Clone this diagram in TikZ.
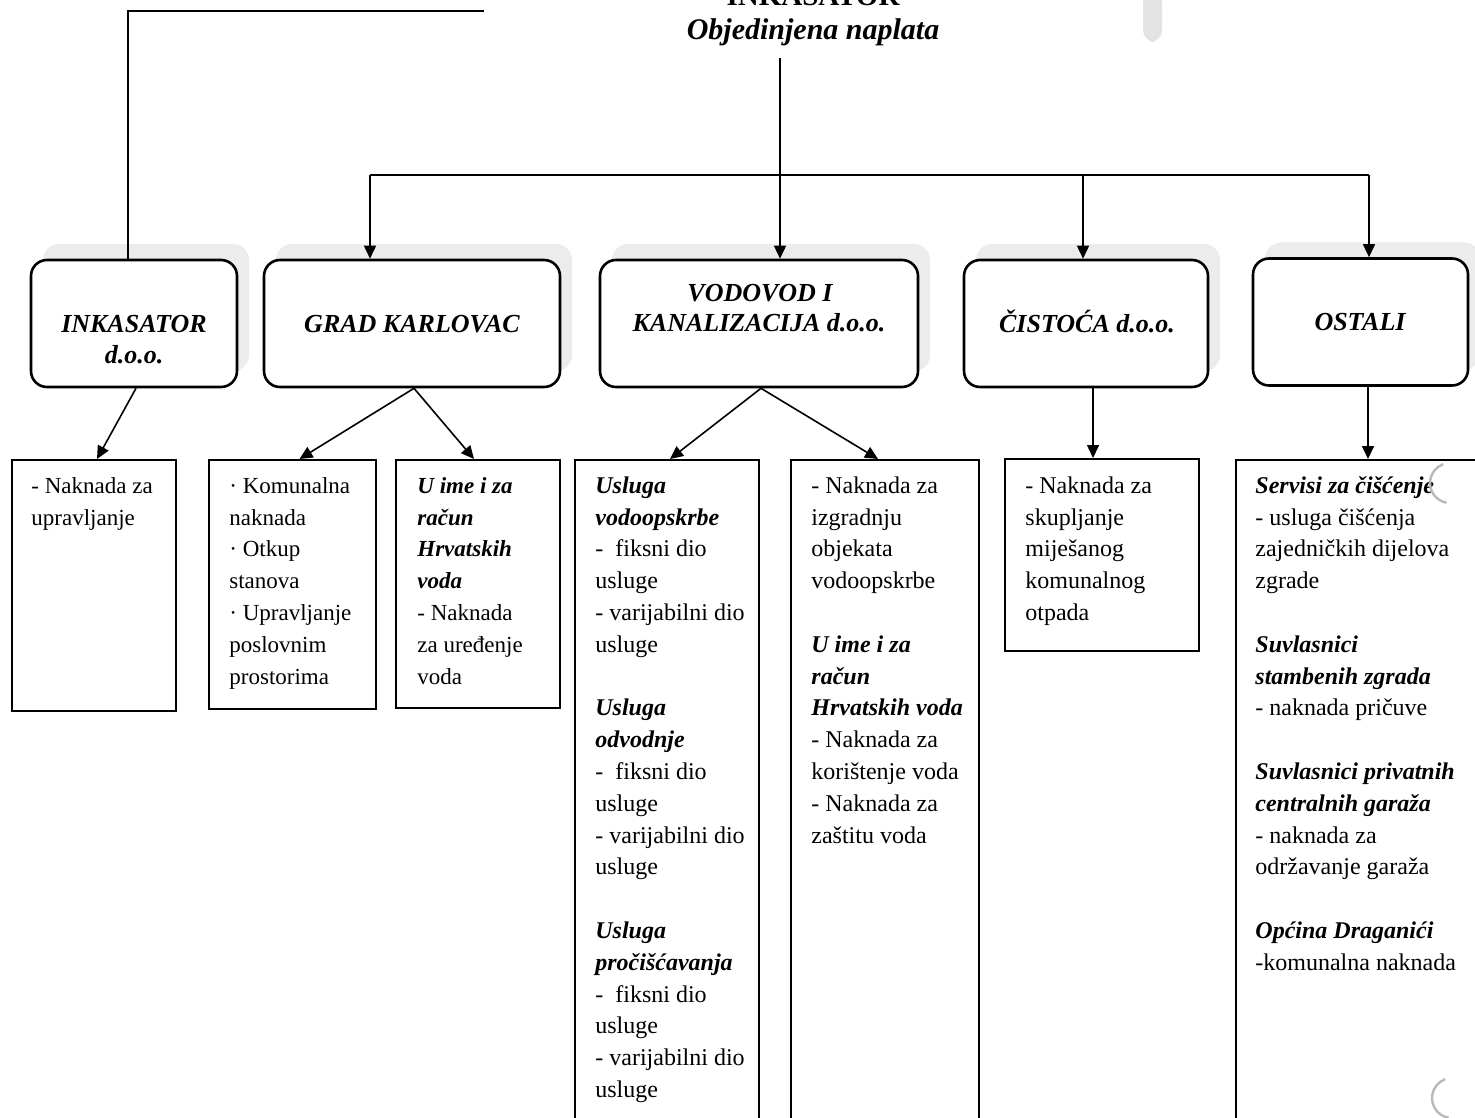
\documentclass[tikz,border=0pt]{standalone}
\usepackage{fontspec}
\setmainfont{Liberation Serif}
\usetikzlibrary{arrows.meta,shadows}
\newcommand{\bitx}[1]{\textbf{\textit{#1}}}
\begin{document}
\begin{tikzpicture}[x=0.5pt,y=-0.5pt,
  tbox/.style={draw, line width=1.3pt, rounded corners=8pt, inner sep=0pt, minimum height=63.5pt, fill=white,
    drop shadow={shadow xshift=6pt, shadow yshift=8pt, fill=gray!15, opacity=1}},
  bbox/.style={draw, line width=1pt, inner sep=0pt, fill=white},
  tlabel/.style={font=\bfseries\itshape\fontsize{13}{16}\selectfont, inner sep=0pt, anchor=base},
  txtA/.style={font=\fontsize{11.5}{15.9}\selectfont, align=left, anchor=north west, inner sep=0pt},
  txtB/.style={font=\fontsize{12}{15.9}\selectfont, align=left, anchor=north west, inner sep=0pt},
  conn/.style={line width=0.8pt, -{Triangle[length=6.5pt,width=6pt]}},
  bar/.style={line width=1.3pt},
  artifact/.style={gray!55, line width=1.2pt}
]
\useasboundingbox (0,0) rectangle (1475,1117);
\clip (0,0) rectangle (1475,1117);
\fill[white] (0,0) rectangle (1475,1117);
\fill[gray!22, rounded corners=6pt] (1143,-10) rectangle (1162,42);

% title
\node[font=\bfseries\fontsize{14.5}{17}\selectfont, anchor=base, inner sep=0pt] (ttop) at (813,6) {INKASATOR};
\node[font=\bfseries\itshape\fontsize{15}{17}\selectfont, anchor=base, inner sep=0pt] (title) at (813,40) {Objedinjena naplata};

\coordinate (cL) at (484,11);
\coordinate (cL2) at (128,11);
\coordinate (cT) at (780,58);
\coordinate (barL) at (370,175);
\coordinate (barR) at (1369,175);
\coordinate (barC) at (1083,175);

% top row boxes
\node[tbox, minimum width=103pt] (ink) at (134,323.5) {};
\node[tbox, minimum width=148pt] (grad) at (412,323.5) {};
\node[tbox, minimum width=159pt] (vod) at (759,323.5) {};
\node[tbox, minimum width=122pt] (cis) at (1086,323.5) {};
\node[tbox, minimum width=107.5pt] (ost) at (1360.5,322) {};

\node[tlabel] (l1a) at (134,332) {INKASATOR};
\node[tlabel] (l1b) at (134,363) {d.o.o.};
\node[tlabel] (l2) at (412,332) {GRAD KARLOVAC};
\node[tlabel] (l3a) at (760,301) {VODOVOD I};
\node[tlabel] (l3b) at (759,331) {KANALIZACIJA d.o.o.};
\node[tlabel] (l4) at (1087,332) {ČISTOĆA d.o.o.};
\node[tlabel] (l5) at (1360,330) {OSTALI};

% bottom boxes
\node[bbox, minimum width=82pt, minimum height=125.5pt] (b1) at (94,585.5) {};
\node[bbox, minimum width=83.5pt, minimum height=124.5pt] (b2) at (292.5,584.5) {};
\node[bbox, minimum width=82pt, minimum height=124pt] (b3) at (478,584) {};
\node[bbox, minimum width=92pt, minimum height=335pt] (b4) at (667,795) {};
\node[bbox, minimum width=94pt, minimum height=335pt] (b5) at (885,795) {};
\node[bbox, minimum width=97pt, minimum height=96pt] (b6) at (1102,555) {};
\node[bbox, minimum width=132pt, minimum height=335pt] (b7) at (1368,795) {};

% texts
\node[txtA] (t1) at (31,470.7) {\strut- Naknada za\\upravljanje};
\node[txtA] (t2) at (229,470.7) {\strut· Komunalna\\naknada\\· Otkup\\stanova\\· Upravljanje\\poslovnim\\prostorima};
\node[txtA] (t3) at (417,470.7) {\strut\bitx{U ime i za}\\\bitx{račun}\\\bitx{Hrvatskih}\\\bitx{voda}\\- Naknada\\za uređenje\\voda};
\node[txtB] (t4) at (595,470.7) {\strut\bitx{Usluga}\\\bitx{vodoopskrbe}\\-\ \ fiksni dio\\usluge\\- varijabilni dio\\usluge\\[15.9pt]\bitx{Usluga}\\\bitx{odvodnje}\\-\ \ fiksni dio\\usluge\\- varijabilni dio\\usluge\\[15.9pt]\bitx{Usluga}\\\bitx{pročišćavanja}\\-\ \ fiksni dio\\usluge\\- varijabilni dio\\usluge};
\node[txtB] (t5) at (811,470.7) {\strut- Naknada za\\izgradnju\\objekata\\vodoopskrbe\\[15.9pt]\bitx{U ime i za}\\\bitx{račun}\\\bitx{Hrvatskih voda}\\- Naknada za\\korištenje voda\\- Naknada za\\zaštitu voda};
\node[txtB] (t6) at (1025,470.7) {\strut- Naknada za\\skupljanje\\miješanog\\komunalnog\\otpada};
\node[txtB] (t7) at (1255,470.7) {\strut\bitx{Servisi za čišćenje}\\- usluga čišćenja\\zajedničkih dijelova\\zgrade\\[15.9pt]\bitx{Suvlasnici}\\\bitx{stambenih zgrada}\\- naknada pričuve\\[15.9pt]\bitx{Suvlasnici privatnih}\\\bitx{centralnih garaža}\\- naknada za\\održavanje garaža\\[15.9pt]\bitx{Općina Draganići}\\-komunalna naknada};

% connectors
\draw[bar] (cL) -- (cL2) -- (cL2 |- ink.north);
\draw[conn] (cT) -- (cT |- vod.north);
\draw[bar] (barL) -- (barR);
\draw[conn] (barL) -- (barL |- grad.north);
\draw[conn] (barC) -- (barC |- cis.north);
\draw[conn] (barR) -- (barR |- ost.north);

\draw[conn] ([xshift=1pt]ink.south) -- ([xshift=1.5pt]b1.north);
\draw[conn] ([xshift=1pt]grad.south) -- ([xshift=3.5pt]b2.north);
\draw[conn] ([xshift=1pt]grad.south) -- ([xshift=-2pt]b3.north);
\draw[conn] ([xshift=1pt]vod.south) -- ([xshift=1.5pt]b4.north);
\draw[conn] ([xshift=1pt]vod.south) -- ([xshift=-3.5pt]b5.north);
\draw[conn] ([xshift=3.5pt]cis.south) -- ([xshift=3.5pt]cis.south |- b6.north);
\draw[conn] (ost.south -| b7.north) -- (b7.north);

% punch-hole marks
\draw[artifact] (1450,483) ++(100:20) arc[start angle=100, end angle=250, radius=20];
\draw[artifact] (1452,1098) ++(100:20) arc[start angle=100, end angle=250, radius=20];
\end{tikzpicture}
\end{document}
